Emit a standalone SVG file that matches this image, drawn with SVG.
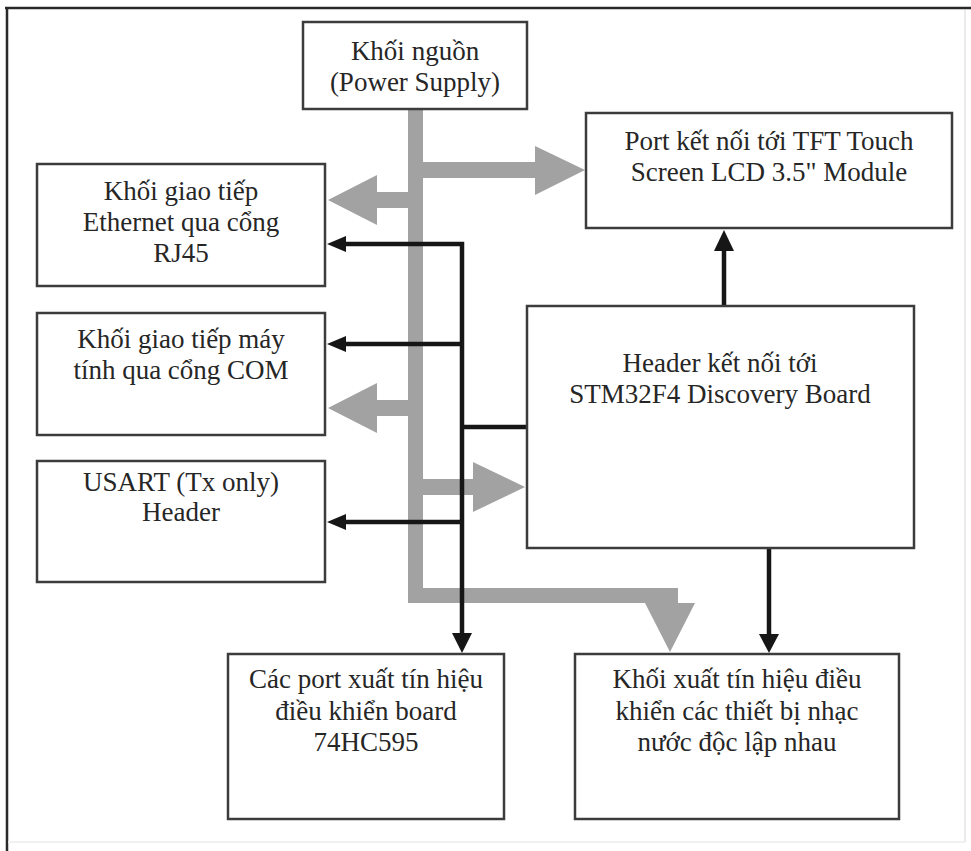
<svg xmlns="http://www.w3.org/2000/svg" width="971" height="851" viewBox="0 0 971 851">
<defs>
<style>
.box{fill:#fff;stroke:#3c3c3c;stroke-width:2.5}
.t{font-size:27px;fill:#262626;text-anchor:middle}
.pw{fill:#a2a2a2;stroke:none}
.sig{fill:none;stroke:#161616;stroke-width:4.5}
.ah{fill:#161616;stroke:none}
</style>
</defs>
<rect x="0" y="0" width="971" height="851" fill="#fff"/>
<g id="frame">
<line x1="7" y1="8" x2="7" y2="851" stroke="#2a2a2a" stroke-width="2.5"/>
<line x1="5" y1="8" x2="971" y2="8" stroke="#2a2a2a" stroke-width="2.5"/>
<line x1="965" y1="10" x2="965" y2="842" stroke="#e4e4e4" stroke-width="1.5"/>
<line x1="8" y1="842" x2="965" y2="842" stroke="#ececec" stroke-width="1.5"/>
</g>
<g id="connectors">
<g id="power-lines">
<rect class="pw" x="408" y="110" width="15" height="493"/>
<rect class="pw" x="408" y="588" width="270" height="15"/>
<polygon class="pw" points="645,603 695,603 670,652"/>
<rect class="pw" x="423" y="162" width="113" height="16"/>
<polygon class="pw" points="535,146 585,170 535,195"/>
<rect class="pw" x="376" y="192" width="33" height="16"/>
<polygon class="pw" points="377,175 328,200 377,225"/>
<rect class="pw" x="376" y="400" width="33" height="16"/>
<polygon class="pw" points="377,383 328,408 377,433"/>
<rect class="pw" x="422" y="479" width="52" height="16"/>
<polygon class="pw" points="473,462 525,487 473,512"/>
</g>
<g id="signal-lines">
<polyline class="sig" points="343,244 462,244 462,635"/>
<line class="sig" x1="343" y1="344" x2="462" y2="344"/>
<line class="sig" x1="462" y1="427" x2="527" y2="427"/>
<line class="sig" x1="343" y1="522" x2="462" y2="522"/>
<line class="sig" x1="724" y1="306" x2="724" y2="248"/>
<line class="sig" x1="769" y1="548" x2="769" y2="636"/>
<polygon class="ah" points="346,236 327,244 346,252"/>
<polygon class="ah" points="346,336 327,344 346,352"/>
<polygon class="ah" points="346,514 327,522 346,530"/>
<polygon class="ah" points="452,633 472,633 462,653"/>
<polygon class="ah" points="759,634 779,634 769,653"/>
<polygon class="ah" points="714,251 734,251 724,230"/>
</g>
</g>
<g font-family="Liberation Serif, Tinos, Times New Roman, DejaVu Serif, serif">
<g id="power-supply">
<rect class="box" x="303" y="22" width="224" height="87"/>
<text class="t" x="415" y="60">Khối nguồn</text>
<text class="t" x="415" y="91">(Power Supply)</text>
</g>
<g id="tft-port">
<rect class="box" x="586" y="113" width="366" height="115"/>
<text class="t" x="769" y="150">Port kết nối tới TFT Touch</text>
<text class="t" x="769" y="181">Screen LCD 3.5" Module</text>
</g>
<g id="ethernet">
<rect class="box" x="37" y="164" width="288" height="122"/>
<text class="t" x="181" y="200">Khối giao tiếp</text>
<text class="t" x="181" y="231">Ethernet qua cổng</text>
<text class="t" x="181" y="262">RJ45</text>
</g>
<g id="com">
<rect class="box" x="37" y="313" width="288" height="122"/>
<text class="t" x="181" y="348">Khối giao tiếp máy</text>
<text class="t" x="181" y="379">tính qua cổng COM</text>
</g>
<g id="usart">
<rect class="box" x="37" y="461" width="288" height="121"/>
<text class="t" x="181" y="491">USART (Tx only)</text>
<text class="t" x="181" y="521">Header</text>
</g>
<g id="stm32">
<rect class="box" x="527" y="306" width="387" height="242"/>
<text class="t" x="720" y="372">Header kết nối tới</text>
<text class="t" x="720" y="403">STM32F4 Discovery Board</text>
</g>
<g id="hc595">
<rect class="box" x="228" y="654" width="276" height="165"/>
<text class="t" x="366" y="688">Các port xuất tín hiệu</text>
<text class="t" x="366" y="720">điều khiển board</text>
<text class="t" x="366" y="751">74HC595</text>
</g>
<g id="fountain-out">
<rect class="box" x="575" y="654" width="324" height="165"/>
<text class="t" x="737" y="688">Khối xuất tín hiệu điều</text>
<text class="t" x="737" y="720">khiển các thiết bị nhạc</text>
<text class="t" x="737" y="751">nước độc lập nhau</text>
</g>
</g>
</svg>
